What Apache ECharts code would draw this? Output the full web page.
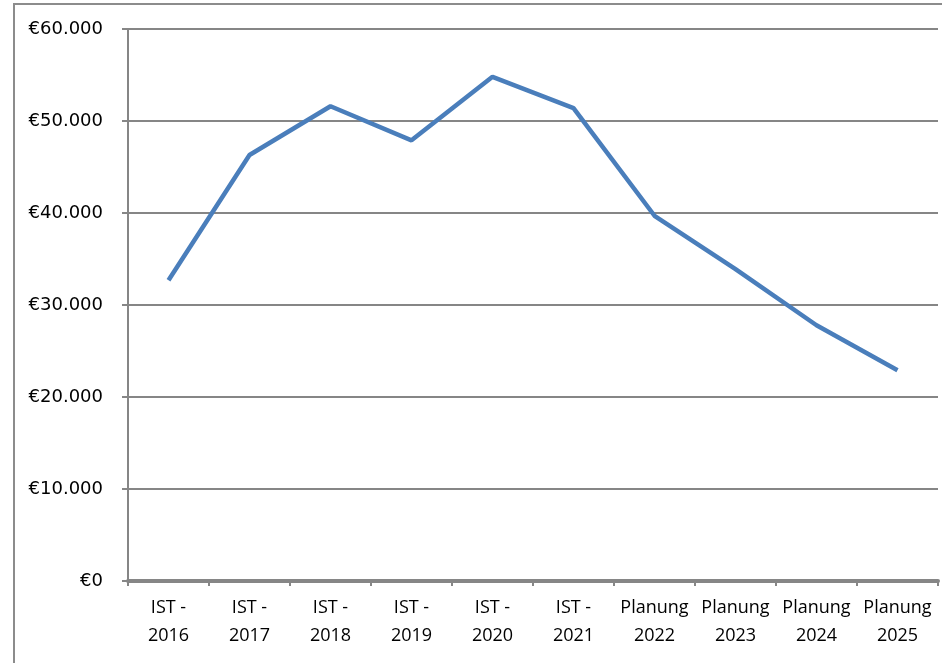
<!DOCTYPE html>
<html><head><meta charset="utf-8">
<script src="https://cdn.jsdelivr.net/npm/echarts@6/dist/echarts.min.js"></script>
<style>html,body{margin:0;padding:0;background:#fff}#c{width:942px;height:663px}</style>
</head><body><div id="c"></div>
<script>
var categories = ['IST -\n2016','IST -\n2017','IST -\n2018','IST -\n2019','IST -\n2020','IST -\n2021','Planung\n2022','Planung\n2023','Planung\n2024','Planung\n2025'];
var values = [32700, 46300, 51600, 47900, 54800, 51400, 39700, 33900, 27800, 22900];
var yTicks = [0, 10000, 20000, 30000, 40000, 50000, 60000];

var chart = echarts.init(document.getElementById('c'));
chart.setOption({
  animation: false,
  graphic: [{type:'rect', shape:{x:14, y:4, width:1000, height:700}, style:{fill:'none', stroke:'#8c8c8c', lineWidth:2}}],
  grid: {left:128, top:29, right:4, bottom:82, containLabel:false},
  xAxis: {
    type:'category', data:categories, boundaryGap:true,
    axisLine:{lineStyle:{color:'#868686', width:4}},
    axisTick:{show:true, length:5, lineStyle:{color:'#868686', width:2}},
    axisLabel:{color:'#000', fontFamily:'Open Sans', fontSize:18, lineHeight:28, margin:13, interval:0}
  },
  yAxis: {
    type:'value', min:0, max:60000, interval:10000,
    axisLine:{show:true, lineStyle:{color:'#868686', width:2}},
    axisTick:{show:true, length:6, lineStyle:{color:'#868686', width:2}},
    splitLine:{lineStyle:{color:'#868686', width:2}},
    axisLabel:{color:'#000', fontFamily:'DejaVu Sans', fontSize:18, margin:25,
      formatter:function(v){ return v===0 ? '€0' : '€' + (v/1000) + '.000'; }}
  },
  series: [{type:'line', data:values, symbol:'none', lineStyle:{color:'#4a7ebb', width:4.5}}]
});
</script></body></html>
